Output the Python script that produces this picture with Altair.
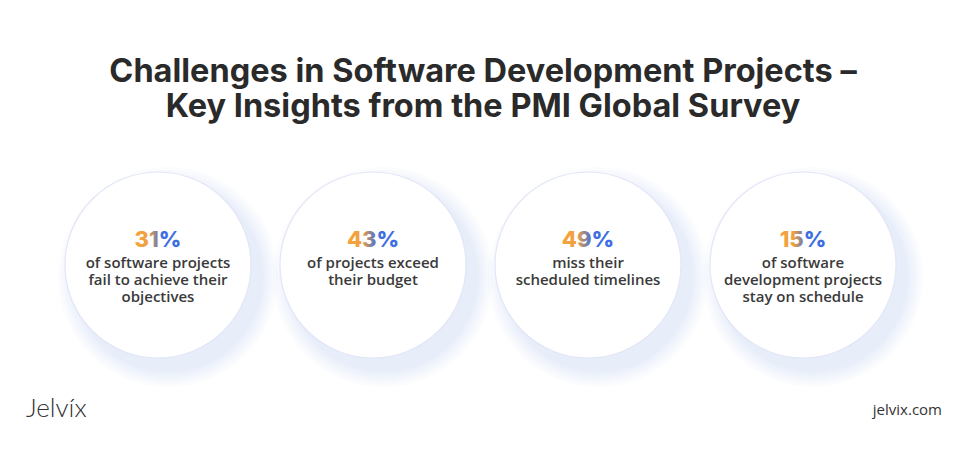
import altair as alt
import pandas as pd

# ---- data ----
title_lines = [
    "Challenges in Software Development Projects \u2013",
    "Key Insights from the PMI Global Survey",
]
percentages = [31, 43, 49, 15]
descriptions = [
    ["of software projects", "fail to achieve their", "objectives"],
    ["of projects exceed", "their budget"],
    ["miss their", "scheduled timelines"],
    ["of software", "development projects", "stay on schedule"],
]
logo_text = "Jelv\u00edx"
site_text = "jelvix.com"

# ---- layout (pixel coordinates of the 966x451 picture) ----
W, H = 950, 435
X0, Y0 = 8, 8
cx0, dx, cy = 158, 215, 265
diam = 186

xs = alt.Scale(domain=[X0, X0 + W], range=[0, W])
ys = alt.Scale(domain=[Y0 + H, Y0], range=[H, 0])


def X(f="x"):
    return alt.X(f"{f}:Q", scale=xs, axis=None)


def Y(f="y"):
    return alt.Y(f"{f}:Q", scale=ys, axis=None)


centers = pd.DataFrame({
    "x": [cx0 + i * dx for i in range(len(percentages))],
    "y": [cy] * len(percentages),
    "pct": [f"{p}%" for p in percentages],
})

# shadow / glow toward the lower right
glow_layers = []
for extra in [34, 28, 22, 16, 10, 5]:
    g = pd.DataFrame({"x": centers["x"] + 10, "y": centers["y"] + 12})
    glow_layers.append(
        alt.Chart(g).mark_point(
            shape="circle", filled=True, color="#6F88EA", opacity=0.028,
            size=(diam + extra) ** 2, strokeWidth=0,
        ).encode(x=X(), y=Y())
    )

circles = alt.Chart(centers).mark_point(
    shape="circle", filled=True, fill="white", stroke="#E2E6F6",
    strokeWidth=1.2, size=diam ** 2, opacity=1,
).encode(x=X(), y=Y())

grad = alt.Gradient(
    gradient="linear", x1=0, x2=1, y1=0, y2=0,
    stops=[
        alt.GradientStop(offset=0, color="#F3A33E"),
        alt.GradientStop(offset=0.3, color="#F0A040"),
        alt.GradientStop(offset=0.58, color="#3E6DE2"),
        alt.GradientStop(offset=1, color="#3E6DE2"),
    ],
)

pct_text = alt.Chart(centers.assign(y=centers["y"] - 18)).mark_text(
    font="Inter", fontWeight=800, fontSize=22, baseline="alphabetic",
    align="center", color=grad,
).encode(x=X(), y=Y(), text="pct:N")

rows = []
for i, lines in enumerate(descriptions):
    for j, line in enumerate(lines):
        rows.append({"x": cx0 + i * dx, "y": cy + 3 + j * 17, "t": line})
desc = pd.DataFrame(rows)
desc_text = alt.Chart(desc).mark_text(
    font="Open Sans", fontWeight=600, fontSize=15, baseline="alphabetic",
    align="center", color="#3A3A3A",
).encode(x=X(), y=Y(), text="t:N")

tdf = pd.DataFrame({"x": [483, 483], "y": [82, 117], "t": title_lines})
title = alt.Chart(tdf).mark_text(
    font="Inter", fontWeight=700, fontSize=32.5, baseline="alphabetic",
    align="center", color="#2A2A2A",
).encode(x=X(), y=Y(), text="t:N")

logo = alt.Chart(pd.DataFrame({"x": [26], "y": [417], "t": [logo_text]})).mark_text(
    font="Lato", fontWeight=300, fontSize=26, baseline="alphabetic",
    align="left", color="#333333",
).encode(x=X(), y=Y(), text="t:N")

site = alt.Chart(pd.DataFrame({"x": [942], "y": [415], "t": [site_text]})).mark_text(
    font="Open Sans", fontWeight=400, fontSize=15, baseline="alphabetic",
    align="right", color="#333333",
).encode(x=X(), y=Y(), text="t:N")

chart = alt.layer(
    *glow_layers, circles, pct_text, desc_text, title, logo, site
).properties(
    width=W, height=H, padding=0, autosize=alt.AutoSizeParams(type="none"),
    background="white",
).configure_view(stroke=None)

chart.save("out.html", embed_options={"renderer": "svg", "actions": False})
